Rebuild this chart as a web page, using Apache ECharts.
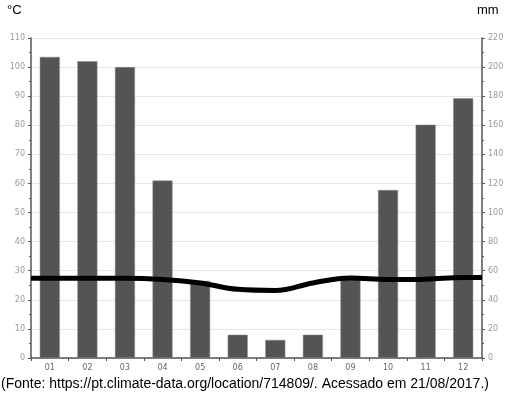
<!DOCTYPE html>
<html><head><meta charset="utf-8">
<script src="https://cdn.jsdelivr.net/npm/echarts@6/dist/echarts.min.js"></script>
<style>html,body{margin:0;padding:0;background:#fff}#c{width:510px;height:395px}</style>
</head><body><div id="c"></div>
<script>
var months = ['01','02','03','04','05','06','07','08','09','10','11','12'];
var precipitation = [207, 204, 200, 122, 53, 16, 12.4, 16, 55, 115.5, 160.4, 178.5];
var temperature = [27.4, 27.4, 27.4, 27.0, 25.8, 23.6, 23.2, 25.8, 27.5, 27.0, 27.1, 27.7];
var tempTicks = [0, 110, 10];
var precTicks = [0, 220, 20];

// line spans the full plot width: points at category centres, held flat to both edges
var lineData = [[0, temperature[0]]];
temperature.forEach(function(v, i){ lineData.push([i + 0.5, v]); });
lineData.push([months.length, temperature[temperature.length - 1]]);

var chart = echarts.init(document.getElementById('c'), null, {renderer:'canvas'});
var axisCommon = {
  axisLine:{show:true, lineStyle:{color:'#555', width:1.5}},
  axisTick:{show:true, length:3, lineStyle:{color:'#555'}},
  minorTick:{show:true, splitNumber:2, length:2, lineStyle:{color:'#555'}},
  axisLabel:{color:'#999', fontSize:8, fontFamily:'DejaVu Sans', margin:6},
  splitLine:{show:true, lineStyle:{color:'#e6e6e6', width:1}}
};
chart.setOption({
  animation:false,
  backgroundColor:'#fff',
  grid:{left:31, right:28, top:38, bottom:37, containLabel:false},
  graphic:[
    {type:'text', left:7, top:4, style:{text:'°C', fontSize:13, fontFamily:'Liberation Sans', fill:'#000'}},
    {type:'text', left:477, top:4, style:{text:'mm', fontSize:13, fontFamily:'Liberation Sans', fill:'#000'}},
    {type:'text', left:1, top:377, style:{text:'(Fonte: https://pt.climate-data.org/location/714809/. Acessado em 21/08/2017.)', fontSize:14, fontFamily:'Liberation Sans', fill:'#000'}}
  ],
  xAxis:[{
    type:'category', data:months, boundaryGap:true,
    axisLine:{show:true, lineStyle:{color:'#555', width:1.5}},
    axisTick:{show:true, length:3, lineStyle:{color:'#555'}},
    axisLabel:{color:'#666', fontSize:8, fontFamily:'DejaVu Sans', margin:6},
    splitLine:{show:false}
  },{
    type:'value', min:0, max:months.length, show:false
  }],
  yAxis:[
    Object.assign({type:'value', position:'left', min:tempTicks[0], max:tempTicks[1], interval:tempTicks[2]}, axisCommon),
    Object.assign({type:'value', position:'right', min:precTicks[0], max:precTicks[1], interval:precTicks[2]}, axisCommon, {splitLine:{show:false}})
  ],
  series:[
    {type:'bar', xAxisIndex:0, yAxisIndex:1, data:precipitation, barWidth:20,
     itemStyle:{color:'#545454', borderColor:'#8a8a8a', borderWidth:0.5}, z:2},
    {type:'line', xAxisIndex:1, yAxisIndex:0, data:lineData, smooth:0.4, symbol:'none',
     lineStyle:{color:'#000', width:5}, z:3}
  ]
});
</script></body></html>
